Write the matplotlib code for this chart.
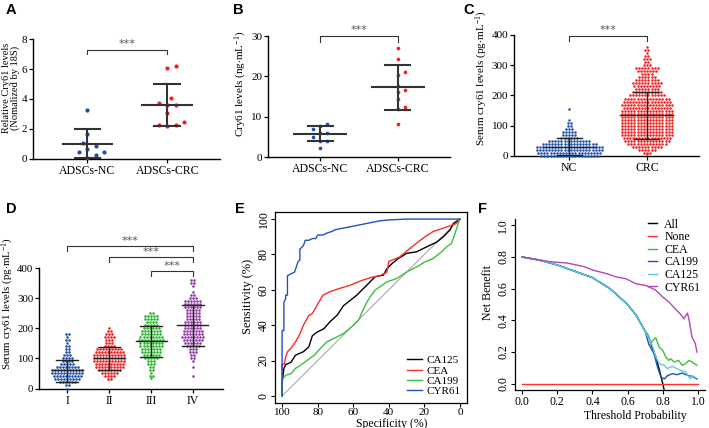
import numpy as np
import matplotlib
matplotlib.use("Agg")
import matplotlib.pyplot as plt

plt.rcParams["font.family"] = ["Liberation Serif", "DejaVu Serif"]
plt.rcParams["mathtext.fontset"] = "custom"
plt.rcParams["mathtext.rm"] = "Liberation Serif"
plt.rcParams["mathtext.it"] = "Liberation Serif:italic"

W, H = 709, 428

# ---------------------------------------------------------------------------
# DATA
# ---------------------------------------------------------------------------
# A: relative Cry61 (qPCR)
a_groups = ["ADSCs-NC", "ADSCs-CRC"]
a_nc = [3.25, 1.65, 1.1, 0.85, 0.65, 0.5, 0.45, 0.25, 0.08]
a_crc = [6.2, 6.05, 4.05, 3.75, 3.6, 3.6, 3.1, 2.45, 2.3, 2.25, 2.2]
a_mean = [1.0, 3.6]
a_sd_hi = [1.97, 5.0]
a_sd_lo = [0.05, 2.2]

# B: Cry61 ng/mL
b_groups = ["ADSCs-NC", "ADSCs-CRC"]
b_nc = [8.1, 7.6, 7.0, 6.0, 6.0, 5.0, 4.0, 4.0, 2.3]
b_crc = [27.0, 24.2, 21.1, 20.3, 17.6, 16.5, 16.1, 14.5, 12.3, 12.0, 8.2]
b_mean = [5.7, 17.3]
b_sd_hi = [7.6, 22.8]
b_sd_lo = [3.9, 11.6]

# C: serum cry61, rows of the dot plot (level -> number of dots)
c_groups = ["NC", "CRC"]
c_nc_levels = [0, 10, 20, 30, 40, 50, 60, 70, 80, 90, 100, 110, 120, 155]
c_nc_counts = [19, 21, 22, 22, 18, 14, 6, 5, 5, 3, 2, 2, 1, 1]
c_crc_levels = [5, 10, 20, 30, 40, 50, 60, 70, 80, 90, 100, 110, 120, 130, 140,
                150, 160, 170, 180, 190, 200, 210, 220, 230, 240, 250, 260,
                270, 280, 290, 300, 310, 320, 330, 340, 350, 360]
c_crc_counts = [1, 3, 6, 10, 13, 15, 16, 17, 17, 17, 17, 17, 17, 17, 17,
                17, 16, 17, 16, 15, 12, 10, 8, 9, 10, 8, 6,
                4, 7, 8, 3, 2, 3, 2, 1, 2, 1]
c_mean = [30, 135]
c_sd_hi = [58, 210]
c_sd_lo = [2, 57]

# D: serum cry61 by stage
d_groups = ["I", "II", "III", "IV"]
d_levels = [
    [0, 10, 20, 30, 40, 50, 60, 70, 80, 90, 100, 110, 120, 130, 140, 150, 160, 170, 180],
    [30, 40, 50, 60, 70, 80, 90, 100, 110, 120, 130, 140, 150, 160, 170, 180, 190, 200],
    [35, 40, 50, 60, 70, 80, 90, 100, 110, 120, 130, 140, 150, 160, 170, 180, 190,
     200, 210, 220, 230, 240, 250],
    [40, 70, 90, 100, 110, 120, 130, 140, 150, 160, 170, 180, 190, 200, 210, 220,
     230, 240, 250, 260, 270, 280, 290, 300, 310, 320, 340, 350, 360],
]
d_counts = [
    [1, 2, 6, 9, 10, 11, 11, 8, 5, 4, 4, 3, 2, 2, 2, 1, 2, 1, 2],
    [2, 4, 6, 8, 10, 10, 11, 11, 11, 10, 9, 4, 3, 3, 4, 3, 2, 1],
    [1, 2, 1, 2, 2, 3, 3, 5, 6, 7, 7, 8, 8, 9, 8, 7, 7, 6, 5, 4, 5, 5, 2],
    [1, 1, 1, 2, 2, 3, 3, 5, 6, 7, 8, 7, 7, 6, 6, 6, 5, 5, 5, 5, 6, 6, 6, 3, 2, 1, 1, 2, 2],
]
d_mean = [60, 100, 157, 210]
d_sd_hi = [95, 137, 208, 278]
d_sd_lo = [22, 62, 105, 140]
d_pairs = [(0, 3, 472), (1, 3, 436), (2, 3, 391)]

# E: ROC curves (specificity %, sensitivity %)
roc_spec = {
    "CA125": [100, 100, 99, 98, 95, 92.5, 88, 85, 83, 80.5, 76.5, 73, 69, 65.5, 61.7, 58,
              54, 50.5, 47.7, 43, 41, 38, 34.6, 30, 24.3, 18.7, 13, 9.3, 5.6, 3.7, 0],
    "CEA": [100, 100, 98.7, 98, 97, 95, 92.5, 90, 88, 85, 83, 80.5, 77, 73, 67, 62, 56,
            50, 45, 41, 40, 34, 28, 21, 15, 7.5, 2, 0],
    "CA199": [100, 100, 98, 95, 92.5, 89.7, 86, 82, 78.5, 74.8, 69, 65.4, 61, 57, 55,
              52.3, 50.5, 47.7, 45, 41, 35.5, 30, 24.3, 19.6, 15, 10.3, 7.5, 4.7, 0],
    "CYR61": [100, 100, 99, 99, 98, 98, 97, 97, 95, 93, 92, 91, 90, 90, 89, 88, 87, 85,
              83, 81, 80, 77, 75, 72, 70, 65, 60, 55, 50, 45, 40, 30, 0],
}
roc_sens = {
    "CA125": [0, 7, 15.5, 17.7, 19, 23, 25, 27.7, 34, 36, 38, 42, 45.7, 51, 54, 57, 61,
              64.5, 67.4, 68.3, 72, 75, 77.7, 80.6, 81.5, 84.3, 87, 90, 93.8, 97.5, 100],
    "CEA": [0, 18, 18, 22, 25, 27, 30.5, 35, 40, 45.5, 46.5, 51, 57, 59, 61, 62.5, 65,
            67, 68, 70, 76, 78.5, 83.5, 89, 93, 95.5, 97.5, 100],
    "CA199": [0, 9, 11.7, 12.6, 15.5, 17.4, 20, 23, 26.8, 30.6, 33.4, 35.3, 39, 42.8,
              47.5, 53, 56, 59.8, 61.7, 64.5, 66.4, 70, 73, 75.8, 77.7, 81.5, 84.3, 86.2, 100],
    "CYR61": [0, 37, 37, 53, 55, 57, 57, 68, 69, 70, 73, 76, 77, 83, 84, 85, 88, 88, 89,
              89, 91, 91, 92, 93, 94, 95, 96, 97, 98, 99, 99.5, 100, 100],
}
roc_colors = {"CA125": "black", "CEA": "#ff2a2a", "CA199": "#3cbf3c", "CYR61": "#2050c8"}

# F: decision curves (threshold probability, net benefit)
dca_thr = {
    "All": [0, 0.1, 0.2, 0.3, 0.4, 0.5, 0.55, 0.6, 0.65, 0.7, 0.72, 0.74, 0.76, 0.78, 0.8, 0.81],
    "None": [0, 1],
    "CEA": [0, 0.1, 0.2, 0.3, 0.4, 0.5, 0.6, 0.65, 0.7, 0.714, 0.733, 0.75, 0.76, 0.78, 0.8,
            0.817, 0.835, 0.845, 0.864, 0.89, 0.91, 0.93, 0.948, 0.966, 0.994],
    "CA199": [0, 0.1, 0.2, 0.3, 0.4, 0.5, 0.6, 0.65, 0.7, 0.72, 0.75, 0.77, 0.79, 0.81,
              0.826, 0.854, 0.88, 0.91, 0.94, 0.966, 0.994],
    "CA125": [0, 0.1, 0.2, 0.3, 0.4, 0.5, 0.55, 0.6, 0.65, 0.7, 0.74, 0.76, 0.78, 0.81,
              0.826, 0.854, 0.87, 0.9, 0.93, 0.957, 0.966, 0.985],
    "CYR61": [0, 0.16, 0.256, 0.35, 0.406, 0.48, 0.536, 0.59, 0.65, 0.705, 0.76, 0.8, 0.835,
              0.873, 0.9, 0.92, 0.94, 0.95, 0.966, 0.985, 0.994],
}
dca_nb = {
    "All": [0.8, 0.78, 0.75, 0.71, 0.67, 0.6, 0.55, 0.5, 0.43, 0.33, 0.29, 0.23, 0.17,
            0.09, 0.0, -0.05],
    "None": [0, 0],
    "CEA": [0.8, 0.78, 0.75, 0.71, 0.67, 0.6, 0.5, 0.43, 0.33, 0.316, 0.26, 0.28, 0.29, 0.23,
            0.21, 0.168, 0.147, 0.158, 0.137, 0.147, 0.116, 0.126, 0.147, 0.137, 0.116],
    "CA199": [0.8, 0.78, 0.75, 0.71, 0.67, 0.6, 0.5, 0.43, 0.33, 0.25, 0.19, 0.105, 0.04,
              0.03, 0.05, 0.063, 0.057, 0.067, 0.053, 0.046, 0.03],
    "CA125": [0.8, 0.78, 0.75, 0.71, 0.67, 0.6, 0.55, 0.5, 0.43, 0.33, 0.24, 0.17, 0.126,
              0.116, 0.095, 0.11, 0.10, 0.084, 0.074, 0.03, 0.05, 0.04],
    "CYR61": [0.8, 0.77, 0.762, 0.74, 0.716, 0.695, 0.674, 0.663, 0.63, 0.62, 0.59, 0.547,
              0.516, 0.47, 0.44, 0.41, 0.446, 0.4, 0.295, 0.253, 0.2],
}
dca_colors = {"All": "black", "None": "#ff3030", "CEA": "#3cbf3c", "CA199": "#1f4fbf",
              "CA125": "#5ccbe6", "CYR61": "#b347b3"}

BLUE = "#1f4fa8"
RED = "#f22020"
GREEN = "#2ab52a"
PURPLE = "#8e3a9f"


# ---------------------------------------------------------------------------
# HELPERS
# ---------------------------------------------------------------------------
def px_axes(fig, left, top, right, bottom):
    return fig.add_axes([left / W, 1 - bottom / H, (right - left) / W, (bottom - top) / H])


def fig_text(fig, x, y, s, **kw):
    fig.text(x / W, 1 - y / H, s, **kw)


def prism_style(ax):
    for side in ("top", "right"):
        ax.spines[side].set_visible(False)
    for side in ("left", "bottom"):
        ax.spines[side].set_linewidth(1.0)
    ax.tick_params(direction="out", length=3, width=0.9, labelsize=8.5, pad=1.5)
    ax.tick_params(axis="y", labelsize=8, pad=1.0)


def swarm(values, center, ax_px_x, ax_px_y, diam):
    """Simple beeswarm: shift points sideways until they do not overlap."""
    placed = []
    xs = []
    for v in values:
        y = v * ax_px_y
        k = 0
        while True:
            off = ((k + 1) // 2) * (1 if k % 2 else -1) * diam * 0.6
            if all((off - px) ** 2 + (y - py) ** 2 >= diam ** 2 for px, py in placed):
                break
            k += 1
        placed.append((off, y))
        xs.append(center + off / ax_px_x)
    return xs


def rows(levels, counts, center, dx):
    xs, ys = [], []
    for lv, n in zip(levels, counts):
        offs = (np.arange(n) - (n - 1) / 2) * dx
        xs.extend(center + offs)
        ys.extend([lv] * n)
    return xs, ys


def mean_sd(ax, x, m, hi, lo, half_mean, half_cap, color, lw):
    ax.plot([x - half_mean, x + half_mean], [m, m], color=color, lw=lw, zorder=4)
    ax.plot([x, x], [lo, hi], color=color, lw=lw, zorder=4)
    for v in (hi, lo):
        ax.plot([x - half_cap, x + half_cap], [v, v], color=color, lw=lw, zorder=4)


def bracket(ax, x0, x1, y, drop, text_dy):
    ax.plot([x0, x0, x1, x1], [y - drop, y, y, y - drop], color="#333333", lw=0.8,
            clip_on=False)
    ax.text((x0 + x1) / 2, y + text_dy, "***", ha="center", va="center",
            fontsize=8, color="#555555", family="DejaVu Sans", clip_on=False)


fig = plt.figure(figsize=(W / 100, H / 100), dpi=100)

# ---------------------------------------------------------------------------
# A
# ---------------------------------------------------------------------------
ax = px_axes(fig, 33, 39, 220, 159)
prism_style(ax)
ax.set_xlim(-0.68, 1.66)
ax.set_ylim(0, 8)
ppx, ppy = 80.0, 15.0
for i, (vals, col) in enumerate([(a_nc, BLUE), (a_crc, RED)]):
    xs = swarm(sorted(vals), i, ppx, ppy, 7.0)
    ax.scatter(xs, sorted(vals), s=9, color=col, linewidths=0, zorder=3)
    mean_sd(ax, i, a_mean[i], a_sd_hi[i], a_sd_lo[i], 0.31, 0.16, "#333333", 1.5)
ax.set_xticks([0, 1])
ax.set_xticklabels(a_groups)
ax.set_yticks([0, 2, 4, 6, 8])
bracket(ax, 0, 1, 7.3, 0.3, 0.35)
fig_text(fig, 11, 88, "Relative Cry61 levels\n(Nomalized by 18S)", rotation=90,
         ha="center", va="center", fontsize=7.5, linespacing=1.0)

# ---------------------------------------------------------------------------
# B
# ---------------------------------------------------------------------------
ax = px_axes(fig, 268, 36, 450, 157)
prism_style(ax)
ax.set_xlim(-0.67, 1.67)
ax.set_ylim(0, 30)
ppx, ppy = 78.0, 121.0 / 30
for i, (vals, col) in enumerate([(b_nc, BLUE), (b_crc, RED)]):
    xs = swarm(sorted(vals), i, ppx, ppy, 6.0)
    ax.scatter(xs, sorted(vals), s=7, color=col, linewidths=0, zorder=3)
    mean_sd(ax, i, b_mean[i], b_sd_hi[i], b_sd_lo[i], 0.33, 0.16, "#333333", 1.5)
ax.set_xticks([0, 1])
ax.set_xticklabels(b_groups)
ax.set_yticks([0, 10, 20, 30])
bracket(ax, 0, 1, 30.0, 1.5, 1.4)
fig_text(fig, 241, 84, r"Cry61 levels (ng$\cdot$mL$^{-1}$)", rotation=90,
         ha="center", va="center", fontsize=8)

# ---------------------------------------------------------------------------
# C
# ---------------------------------------------------------------------------
ax = px_axes(fig, 514, 35, 699, 156)
prism_style(ax)
ax.set_xlim(-0.71, 1.67)
ax.set_ylim(0, 400)
xs, ys = rows(c_nc_levels, c_nc_counts, 0, 0.04)
ax.scatter(xs, ys, s=3.3, color=BLUE, linewidths=0, zorder=3, clip_on=False)
xs, ys = rows(c_crc_levels, c_crc_counts, 1, 0.04)
ax.scatter(xs, ys, s=3.3, color=RED, linewidths=0, zorder=3, clip_on=False)
for i in range(2):
    mean_sd(ax, i, c_mean[i], c_sd_hi[i], c_sd_lo[i], 0.34, 0.16, "#222222", 1.0)
ax.set_xticks([0, 1])
ax.set_xticklabels(c_groups)
ax.set_yticks([0, 100, 200, 300, 400])
bracket(ax, 0, 1, 398, 17, 20)
fig_text(fig, 482, 78, r"Serum cry61 levels (pg$\cdot$mL$^{-1}$)", rotation=90,
         ha="center", va="center", fontsize=8)

# ---------------------------------------------------------------------------
# D
# ---------------------------------------------------------------------------
ax = px_axes(fig, 38.5, 268, 223, 388.5)
prism_style(ax)
ax.set_xlim(-0.69, 3.72)
ax.set_ylim(0, 400)
for i, col in enumerate([BLUE, RED, GREEN, PURPLE]):
    xs, ys = rows(d_levels[i], d_counts[i], i, 0.072)
    ax.scatter(xs, ys, s=3.5, color=col, linewidths=0, zorder=3, clip_on=False)
    mean_sd(ax, i, d_mean[i], d_sd_hi[i], d_sd_lo[i], 0.37, 0.26, "#222222", 1.0)
ax.set_xticks(range(4))
ax.set_xticklabels(d_groups)
ax.set_yticks([0, 100, 200, 300, 400])
ax.tick_params(axis="y", labelsize=7.8, pad=0.8)
for g0, g1, yb in d_pairs:
    bracket(ax, g0, g1, yb, 17, 17)
fig_text(fig, 8, 304, r"Serum cry61 levels (pg$\cdot$mL$^{-1}$)", rotation=90,
         ha="center", va="center", fontsize=7.8)

# ---------------------------------------------------------------------------
# E
# ---------------------------------------------------------------------------
ax = px_axes(fig, 275, 212, 467, 403)
ax.set_xlim(104, -4)
ax.set_ylim(-4, 104)
ax.plot([100, 0], [0, 100], color="#aaaaaa", lw=0.8)
for name in ["CA125", "CEA", "CA199", "CYR61"]:
    ax.plot(roc_spec[name], roc_sens[name], color=roc_colors[name], lw=1.0, label=name)
ax.set_xticks([100, 80, 60, 40, 20, 0])
ax.set_yticks([0, 20, 40, 60, 80, 100])
ax.tick_params(direction="out", length=3.0, width=0.8, labelsize=8.5, pad=0.8)
ax.tick_params(axis="x", labelsize=8)
for lab in ax.get_yticklabels():
    lab.set_rotation(90)
    lab.set_va("center")
for sp in ax.spines.values():
    sp.set_linewidth(0.9)
ax.legend(loc="lower right", frameon=False, fontsize=8, handlelength=1.3,
          handletextpad=0.4, labelspacing=0.05, borderaxespad=0.2)
fig_text(fig, 248, 296, "Sensitivity (%)", rotation=90, ha="center", va="center",
         fontsize=9)
fig_text(fig, 392, 423.5, "Specificity (%)", ha="center", va="center", fontsize=8.5)

# ---------------------------------------------------------------------------
# F
# ---------------------------------------------------------------------------
ax = px_axes(fig, 515, 219, 705, 390)
ax.set_xlim(-0.04, 1.04)
ax.set_ylim(-0.04, 1.04)
for name in ["All", "None", "CEA", "CA199", "CA125", "CYR61"]:
    ax.plot(dca_thr[name], dca_nb[name], color=dca_colors[name], lw=1.0, label=name)
ax.set_xticks([0, 0.2, 0.4, 0.6, 0.8, 1.0])
ax.set_yticks([0, 0.2, 0.4, 0.6, 0.8, 1.0])
ax.xaxis.set_major_formatter(matplotlib.ticker.FormatStrFormatter("%.1f"))
ax.yaxis.set_major_formatter(matplotlib.ticker.FormatStrFormatter("%.1f"))
ax.tick_params(direction="out", length=3.0, width=0.8, labelsize=8.5, pad=1.0)
for lab in ax.get_yticklabels():
    lab.set_rotation(90)
    lab.set_va("center")
for sp in ("top", "right"):
    ax.spines[sp].set_visible(False)
for sp in ("left", "bottom"):
    ax.spines[sp].set_linewidth(0.9)
ax.legend(loc="upper right", frameon=False, fontsize=8.5, handlelength=0.8,
          handletextpad=0.6, labelspacing=0.05, borderaxespad=0.0,
          bbox_to_anchor=(1.0, 1.03))
fig_text(fig, 488, 292, "Net Benefit", rotation=90, ha="center", va="center",
         fontsize=8.5)
fig_text(fig, 635, 416, "Threshold Probability", ha="center", va="center", fontsize=8.5)

# panel letters
for letter, x, y in [("A", 6, 10), ("B", 233, 10), ("C", 463, 10),
                     ("D", 6, 209), ("E", 235, 209), ("F", 478, 209)]:
    fig_text(fig, x, y, letter, ha="left", va="center", fontsize=10.5,
             fontweight="bold", family="Liberation Sans")

fig.savefig("out.png", dpi=100)
